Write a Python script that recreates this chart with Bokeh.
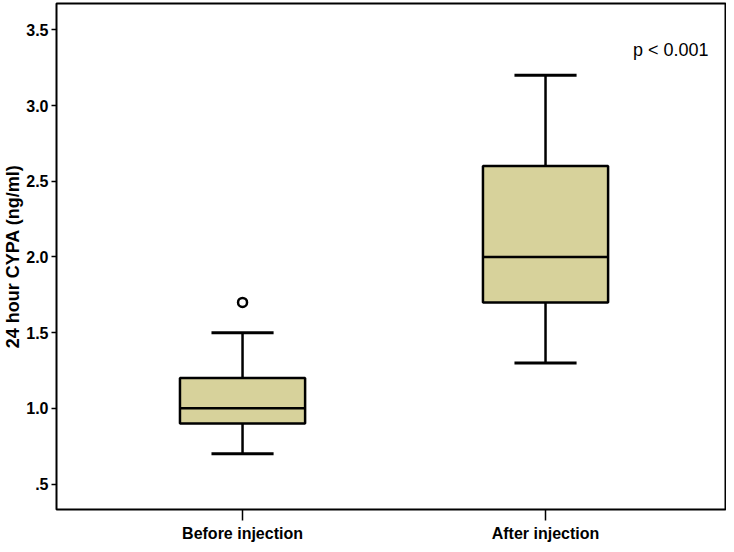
from bokeh.plotting import figure
from bokeh.models import Range1d, FixedTicker, Label, ColumnDataSource
from bokeh.embed import file_html
from bokeh.resources import INLINE

# ---- data ----
groups = ["Before injection", "After injection"]
group_pos = [1, 2]
lower_whisker = [0.7, 1.3]
q1 = [0.9, 1.7]
median = [1.0, 2.0]
q3 = [1.2, 2.6]
upper_whisker = [1.5, 3.2]
outlier_pos = [1]
outlier_values = [1.7]
y_ticks = [0.5, 1.0, 1.5, 2.0, 2.5, 3.0, 3.5]
y_tick_labels = [".5", "1.0", "1.5", "2.0", "2.5", "3.0", "3.5"]
y_title = "24 hour CYPA (ng/ml)"
p_text = "p < 0.001"

BOX_W = 0.413
CAP_W = 0.205
FILL = "#D7D29B"
FONT = "Liberation Sans"

p = figure(width=726, height=544, output_backend="svg", toolbar_location=None,
           x_range=Range1d(0.386, 2.594), y_range=Range1d(0.332, 3.674),
           min_border_left=56, min_border_right=1, min_border_top=3, min_border_bottom=33)
p.background_fill_color = "white"
p.border_fill_color = "white"
p.outline_line_color = "black"
p.outline_line_width = 2
p.grid.visible = False

src = ColumnDataSource(dict(
    x=group_pos, lw=lower_whisker, q1=q1, med=median, q3=q3, uw=upper_whisker,
    left=[g - BOX_W / 2 for g in group_pos], right=[g + BOX_W / 2 for g in group_pos],
    cl=[g - CAP_W / 2 for g in group_pos], cr=[g + CAP_W / 2 for g in group_pos],
))

# whiskers
p.segment(x0="x", y0="q3", x1="x", y1="uw", source=src, line_color="black", line_width=2.5)
p.segment(x0="x", y0="lw", x1="x", y1="q1", source=src, line_color="black", line_width=2.5)
# caps
p.segment(x0="cl", y0="uw", x1="cr", y1="uw", source=src, line_color="black", line_width=3)
p.segment(x0="cl", y0="lw", x1="cr", y1="lw", source=src, line_color="black", line_width=3)
# boxes
p.quad(left="left", right="right", bottom="q1", top="q3", source=src,
       fill_color=FILL, line_color="black", line_width=2.5)
# medians
p.segment(x0="left", y0="med", x1="right", y1="med", source=src, line_color="black", line_width=2.5)
# outlier
p.scatter(x=outlier_pos, y=outlier_values, marker="circle", size=9,
          fill_color="white", line_color="black", line_width=2.5)

# axes
p.xaxis.ticker = FixedTicker(ticks=group_pos)
p.xaxis.major_label_overrides = dict(zip(group_pos, groups))
p.xaxis.axis_line_color = None
p.xaxis.major_tick_out = 11
p.xaxis.major_tick_in = 0
p.xaxis.major_tick_line_width = 1.5
p.xaxis.minor_tick_line_color = None
p.xaxis.major_label_standoff = 4
p.xaxis.major_label_text_font = FONT
p.xaxis.major_label_text_font_style = "bold"
p.xaxis.major_label_text_font_size = "16px"
p.xaxis.major_label_text_color = "black"

p.yaxis.ticker = FixedTicker(ticks=y_ticks)
p.yaxis.major_label_overrides = dict(zip(y_ticks, y_tick_labels))
p.yaxis.axis_line_color = None
p.yaxis.major_tick_out = 5
p.yaxis.major_tick_in = 0
p.yaxis.major_tick_line_width = 1.5
p.yaxis.minor_tick_line_color = None
p.yaxis.major_label_standoff = 3
p.yaxis.major_label_text_font = FONT
p.yaxis.major_label_text_font_style = "bold"
p.yaxis.major_label_text_font_size = "16px"
p.yaxis.major_label_text_color = "black"
p.yaxis.axis_label = y_title
p.yaxis.axis_label_standoff = 0
p.yaxis.axis_label_text_font = FONT
p.yaxis.axis_label_text_font_style = "bold"
p.yaxis.axis_label_text_font_size = "18px"
p.yaxis.axis_label_text_color = "black"

p.add_layout(Label(x=2.538, y=3.365, text=p_text, text_align="right",
                   text_baseline="alphabetic", text_font=FONT,
                   text_font_size="18px", text_color="black"))

open("out.html", "w").write(file_html(p, INLINE))
